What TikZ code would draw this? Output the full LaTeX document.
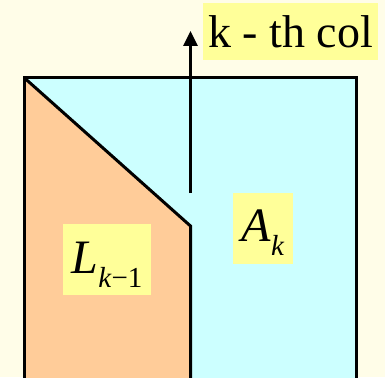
\documentclass[tikz,border=0pt]{standalone}
\usepackage{fontspec}
\setmainfont{Liberation Serif}
\usetikzlibrary{arrows.meta}
\definecolor{bg}{RGB}{255,253,232}
\definecolor{cyanfill}{RGB}{204,255,255}
\definecolor{orangefill}{RGB}{255,204,153}
\definecolor{labelyellow}{RGB}{255,255,153}
\newcommand{\mysubtxt}[1]{\raisebox{-14pt}{\fontsize{29}{29}\selectfont #1}}
\tikzset{
  lbl/.style={fill=labelyellow, inner sep=0pt, anchor=base},
  edge/.style={line width=3pt, draw=black, line join=miter},
}
\begin{document}
\begin{tikzpicture}[x=1pt,y=-1pt]
\fill[bg] (0,0) rectangle (385,377);
\useasboundingbox (0,0) rectangle (385,377);
\begin{scope}
\clip (0,0) rectangle (385,377);
\coordinate (tl) at (24.5,78);
\coordinate (tr) at (356.5,78);
\coordinate (bl) at (24.5,392);
\coordinate (br) at (356.5,392);
\coordinate (kink) at (190.5,226);
\coordinate (mb) at (190.5,392);
\coordinate (arrbase) at (190.5,193);
\coordinate (arrtip) at (190.5,31);
\fill[cyanfill] (tl) rectangle (br);
\fill[orangefill] (tl) -- (kink) -- (mb) -- (bl) -- cycle;
\draw[edge] (bl) -- (tl) -- (tr) -- (br);
\draw[edge] (tl) -- (kink) -- (mb);
\draw[edge, -{Triangle[length=15pt,width=14pt]}] (arrbase) -- (arrtip);
\node[font=\fontsize{46}{46}\selectfont, anchor=base east, inner sep=0pt] (cut) at (2,63) {e};
\end{scope}
\node[lbl, minimum width=175pt, text height=45pt, text depth=12pt,
      font=\fontsize{46}{46}\selectfont] (kcol) at (290.5,48) {k - th col};
\node[lbl, minimum width=88pt, text height=49pt, text depth=22pt,
      font=\fontsize{48}{48}\selectfont\itshape] (L) at (107,273) {L\mysubtxt{k\textup{−1}}};
\node[lbl, minimum width=60pt, text height=48pt, text depth=23pt,
      font=\fontsize{48}{48}\selectfont\itshape] (A) at (263,241) {A\mysubtxt{k}};
\end{tikzpicture}
\end{document}
